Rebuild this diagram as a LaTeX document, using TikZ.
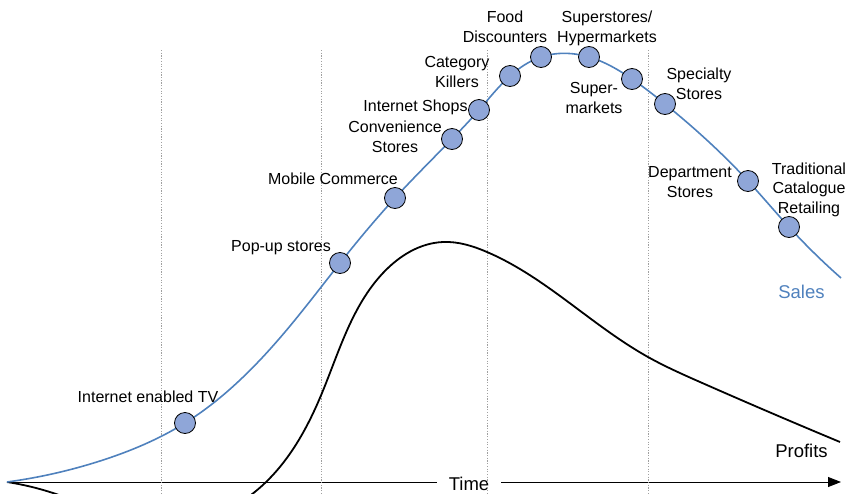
\documentclass[tikz,border=0pt]{standalone}
\usepackage{fontspec}
\setmainfont{Liberation Sans}
\usetikzlibrary{arrows.meta,hobby}
\definecolor{salesblue}{RGB}{79,129,189}
\definecolor{dotfill}{RGB}{143,166,216}
\definecolor{gridgray}{RGB}{160,160,160}
\tikzset{
  lbl/.style={font=\fontsize{16}{19.5}\selectfont, inner sep=0pt, align=center, anchor=base},
  biglbl/.style={font=\fontsize{18.5}{22}\selectfont, inner sep=0pt, anchor=base},
  marker/.style={circle, draw=black, fill=dotfill, line width=0.8pt, minimum size=21pt, inner sep=0pt},
  grid/.style={draw=gridgray, line width=0.7pt, dash pattern=on 1.2pt off 1.5pt},
  salescurve/.style={draw=salesblue, line width=1.6pt},
  profitcurve/.style={draw=black, line width=1.8pt},
  axis/.style={draw=black, line width=0.9pt, -{Triangle[length=13pt,width=10pt]}}
}
\begin{document}
\begin{tikzpicture}[x=1pt,y=-1pt]
\useasboundingbox (0,0) rectangle (852,493);
\clip (0,0) rectangle (852,493);
% axis
\coordinate (ax0) at (7,482);
\coordinate (ax1) at (841,482);
\draw[axis] (ax0) -- (ax1);
\node[biglbl, fill=white, inner xsep=12pt, inner ysep=2pt] (time) at (469,490) {Time};
% grid lines
\foreach \gx/\gn in {161/g1,321/g2,487/g3,648/g4}{
  \coordinate (\gn t) at (\gx,50);
  \coordinate (\gn b) at (\gx,493);
  \draw[grid] (\gn t) -- (\gn b);
}
% profits curve
\draw[profitcurve, use Hobby shortcut] (7,482) .. (53,493) .. (160,525) .. (265,483) .. (322,393)
  .. (383,273) .. (443,242) .. (487,252) .. (583,313) .. (648,357) .. (700,382) .. (840,442);
% sales curve
\draw[salescurve, use Hobby shortcut] (7,482) .. (100,461) .. (185,423) .. (240,380) .. (290,326)
  .. (340,263) .. (395,198) .. (452,139) .. (479,110) .. (510,76) .. (541,57) .. (589,57)
  .. (632,79) .. (665,104) .. (748,181) .. (789,227) .. (841,278);
% markers
\node[marker] (m1) at (185,423) {};
\node[marker] (m2) at (340,263) {};
\node[marker] (m3) at (395,198) {};
\node[marker] (m4) at (452,139) {};
\node[marker] (m5) at (479,110) {};
\node[marker] (m6) at (510,76) {};
\node[marker] (m7) at (541,57) {};
\node[marker] (m8) at (589,57) {};
\node[marker] (m9) at (632,79) {};
\node[marker] (m10) at (665,104) {};
\node[marker] (m11) at (748,181) {};
\node[marker] (m12) at (789,227) {};
% labels (multi-line: base = last line)
\node[lbl] (t1) at (148,402) {Internet enabled TV};
\node[lbl] (t2) at (281,251) {Pop-up stores};
\node[lbl] (t3) at (333,184) {Mobile Commerce};
\node[lbl] (t4) at (395,152) {Convenience\\Stores};
\node[lbl] (t5) at (415.5,111) {Internet Shops};
\node[lbl] (t6) at (457,87) {Category\\Killers};
\node[lbl] (t7) at (505,42) {Food\\Discounters};
\node[lbl] (t8) at (607,42) {Superstores/\\Hypermarkets};
\node[lbl] (t9) at (594,113) {Super-\\markets};
\node[lbl] (t10) at (699,99) {Specialty\\Stores};
\node[lbl] (t11) at (690,197) {Department\\Stores};
\node[lbl] (t12) at (809,213) {Traditional\\Catalogue\\Retailing};
\node[biglbl, text=salesblue] (sales) at (801.5,298) {Sales};
\node[biglbl] (profits) at (801.5,457) {Profits};
\end{tikzpicture}
\end{document}
